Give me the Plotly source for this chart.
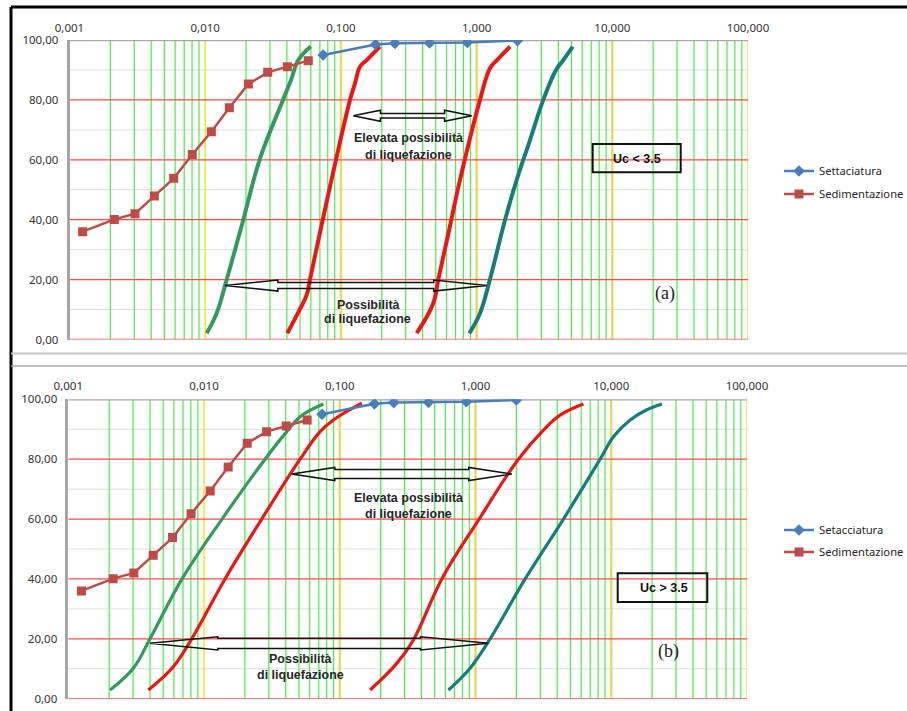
import math
import plotly.graph_objects as go

W, H = 907, 711

# ---------------------------------------------------------------- data
# particle size in mm, percent passing
setac_d = [0.074, 0.18, 0.25, 0.45, 0.855, 2.0]
setac_p = [95.0, 98.5, 98.9, 99.0, 99.2, 99.8]

sedim_d = [0.00125, 0.00214, 0.00304, 0.00422, 0.00586, 0.00803,
           0.0111, 0.01506, 0.0208, 0.0289, 0.0403, 0.0575]
sedim_p = [36.0, 40.1, 42.0, 47.9, 53.8, 61.8, 69.4, 77.4, 85.3, 89.2, 91.1, 93.1]

# grading limits for liquefiable soils, Uc < 3.5
a_green_d = [0.01026, 0.01215, 0.01440, 0.01909, 0.02518, 0.03744, 0.04288, 0.04855, 0.05990]
a_green_p = [2.1, 8.8, 20.0, 40.0, 60.0, 80.0, 86.6, 93.3, 97.8]
a_red1_d = [0.04027, 0.04830, 0.05598, 0.05919, 0.08524, 0.1167, 0.1270, 0.1382, 0.1549, 0.1941]
a_red1_p = [2.1, 8.9, 14.9, 20.1, 53.3, 80.0, 85.5, 91.1, 93.3, 97.8]
a_red2_d = [0.3619, 0.4797, 0.5222, 0.6368, 0.7547, 1.0595, 1.2549, 1.4137, 1.7626]
a_red2_p = [2.1, 12.1, 20.1, 37.9, 53.3, 80.0, 90.6, 93.3, 97.8]
a_teal_d = [0.8835, 1.0595, 1.2549, 1.6195, 1.9748, 2.4746, 3.1008, 3.8470, 4.3535, 5.1076]
a_teal_p = [2.1, 8.8, 20.1, 39.9, 53.3, 66.6, 80.0, 90.0, 93.3, 97.8]

# grading limits for liquefiable soils, Uc > 3.5
b_green_d = [0.002029, 0.003013, 0.004000, 0.006885, 0.01357, 0.02815, 0.04068, 0.05098, 0.07570]
b_green_p = [2.9, 10.2, 20.0, 40.0, 60.0, 80.0, 89.2, 94.2, 98.4]
b_red1_d = [0.003886, 0.005939, 0.008114, 0.01428, 0.02662, 0.05098, 0.07158, 0.08968, 0.1452]
b_red1_p = [2.9, 10.7, 20.0, 40.0, 60.0, 80.0, 89.2, 93.1, 98.7]
b_red2_d = [0.1673, 0.2630, 0.3486, 0.5645, 1.0629, 2.0704, 3.1651, 4.2022, 6.2391]
b_red2_p = [2.9, 11.8, 19.6, 40.0, 60.0, 80.0, 89.7, 94.7, 98.4]
b_teal_d = [0.6314, 0.9124, 1.2812, 2.3206, 4.4440, 8.2813, 10.380, 13.785, 18.302, 23.606]
b_teal_p = [2.9, 10.2, 20.0, 40.0, 60.0, 80.0, 87.5, 93.1, 96.5, 98.4]

x_tickvals = [0.001, 0.01, 0.1, 1, 10, 100]
x_ticktext = ["0,001", "0,010", "0,100", "1,000", "10,000", "100,000"]
y_tickvals = [0, 20, 40, 60, 80, 100]
y_ticktext = ["0,00", "20,00", "40,00", "60,00", "80,00", "100,00"]

# ---------------------------------------------------------------- styles
BLUE = "#4a7ebb"
BROWN = "#be4b48"
GREEN = "#339a5e"
RED = "#ee1515"
TEAL = "#167e7a"
GRID_GREEN = "#48ee48"
GRID_YELLOW = "#f5e000"
GRID_RED = "#ff4a4a"
GRID_GRAY = "#dedede"
AXIS_GRAY = "#a6a6a6"
TICK_FONT = dict(family="Noto Sans", size=11.5, color="#333333")
LABEL_FONT = dict(family="Liberation Sans", size=12.5, color="#262626")


def px(x):
    return x / W


def py(y):
    return 1 - y / H


fig = go.Figure()


def add_panel(sfx, legend_name, setac_label, curves, curve_w, arrows):
    xa, ya = "x" + sfx, "y" + sfx
    for d, p, c in curves:
        fig.add_trace(go.Scatter(x=d, y=p, mode="lines", xaxis=xa, yaxis=ya,
                                 line=dict(color=c, width=curve_w, shape="spline", smoothing=1.1),
                                 showlegend=False, hoverinfo="skip"))
    # hollow double-headed arrows
    for left, right, yv, head, hh, sh in arrows:
        l, r = math.log10(left), math.log10(right)
        pts = [(l, yv), (l + head, yv + hh), (l + head, yv + sh), (r - head, yv + sh),
               (r - head, yv + hh), (r, yv), (r - head, yv - hh), (r - head, yv - sh),
               (l + head, yv - sh), (l + head, yv - hh), (l, yv)]
        fig.add_trace(go.Scatter(x=[10 ** a for a, _ in pts], y=[b for _, b in pts],
                                 mode="lines", xaxis=xa, yaxis=ya,
                                 line=dict(color="#111111", width=1.5),
                                 showlegend=False, hoverinfo="skip"))
    fig.add_trace(go.Scatter(x=setac_d, y=setac_p, name=setac_label, mode="lines+markers",
                             xaxis=xa, yaxis=ya, legend=legend_name, legendgroup=legend_name + "s",
                             line=dict(color=BLUE, width=2.5),
                             marker=dict(symbol="diamond", size=9, color=BLUE)))
    fig.add_trace(go.Scatter(x=sedim_d, y=sedim_p, name="Sedimentazione", mode="lines+markers",
                             xaxis=xa, yaxis=ya, legend=legend_name, legendgroup=legend_name + "d",
                             line=dict(color=BROWN, width=2.5),
                             marker=dict(symbol="square", size=9, color=BROWN)))


add_panel("", "legend", "Settaciatura",
          [(a_green_d, a_green_p, GREEN), (a_red1_d, a_red1_p, RED),
           (a_red2_d, a_red2_p, RED), (a_teal_d, a_teal_p, TEAL)], 4,
          [(0.1234, 0.9203, 74.7, 0.20, 1.84, 0.73),
           (0.01399, 1.187, 18.0, 0.39, 1.84, 1.0)])
add_panel("2", "legend2", "Setacciatura",
          [(b_green_d, b_green_p, GREEN), (b_red1_d, b_red1_p, RED),
           (b_red2_d, b_red2_p, RED), (b_teal_d, b_teal_p, TEAL)], 3.2,
          [(0.04429, 1.85, 75.05, 0.317, 2.2, 1.5),
           (0.004, 1.245, 18.5, 0.50, 2.2, 1.7)])


# ---------------------------------------------------------------- axes
def xaxis_cfg(x0, x1, label_y):
    # labels sit on a free axis just above the plot frame
    return dict(type="log", range=[-3, 2], domain=[px(x0), px(x1)], anchor="free",
                position=py(label_y), side="top",
                tickvals=x_tickvals, ticktext=x_ticktext, tickfont=TICK_FONT,
                showgrid=False, zeroline=False, showline=False, ticks="",
                ticklabelstandoff=0, fixedrange=True)


def yaxis_cfg(top, bottom, anchor):
    return dict(range=[0, 100], domain=[py(bottom), py(top)], anchor=anchor,
                tickvals=y_tickvals, ticktext=y_ticktext, tickfont=TICK_FONT,
                showgrid=False, zeroline=False,
                showline=True, linecolor=AXIS_GRAY, linewidth=2.5, ticks="",
                ticklabelstandoff=6, fixedrange=True)


def vline(xr, yr, xv, color, width):
    return dict(type="line", xref=xr, yref=yr, x0=xv, x1=xv, y0=0, y1=100,
                layer="below", line=dict(color=color, width=width))


def hline(xr, yr, yv, color, width, layer="below"):
    return dict(type="line", xref=xr, yref=yr, x0=0.001, x1=100, y0=yv, y1=yv,
                layer=layer, line=dict(color=color, width=width))


shapes = []
for xr, yr in (("x", "y"), ("x2", "y2")):
    for yv in (10, 30, 50, 70, 90):
        shapes.append(hline(xr, yr, yv, GRID_GRAY, 1))
    for k in range(-3, 2):
        for m in range(2, 10):
            shapes.append(vline(xr, yr, m * 10 ** k, GRID_GREEN, 1.2))
    for k in (-1, 0, 1):
        shapes.append(vline(xr, yr, 10 ** k, "#dadada", 2.6))
    for k in (-2, -1, 0, 1, 2):
        shapes.append(vline(xr, yr, 10 ** k, GRID_YELLOW, 1.3))
    for yv in (0, 20, 40, 60, 80):
        shapes.append(hline(xr, yr, yv, GRID_RED, 1.3))
    # top frame line of the plot area
    shapes.append(hline(xr, yr, 100, AXIS_GRAY, 2.5))

# page frame and separators
shapes += [
    dict(type="line", xref="paper", yref="paper", x0=px(11), x1=1, y0=py(7), y1=py(7),
         line=dict(color="#000000", width=3)),
    dict(type="line", xref="paper", yref="paper", x0=px(11), x1=px(11), y0=py(7), y1=0,
         line=dict(color="#000000", width=3)),
    dict(type="line", xref="paper", yref="paper", x0=px(11), x1=1, y0=py(353.5), y1=py(353.5),
         line=dict(color="#c4c4c4", width=2)),
    dict(type="line", xref="paper", yref="paper", x0=px(11), x1=1, y0=py(366), y1=py(366),
         line=dict(color="#a8a8a8", width=1.5)),
    # Uc boxes
    dict(type="rect", xref="paper", yref="paper", x0=px(592.7), x1=px(680.7),
         y0=py(172.3), y1=py(144), line=dict(color="#111111", width=2)),
    dict(type="rect", xref="paper", yref="paper", x0=px(617.7), x1=px(707.3),
         y0=py(602), y1=py(573.3), line=dict(color="#111111", width=2)),
]


def label(x, y, text, font=LABEL_FONT):
    return dict(xref="paper", yref="paper", x=px(x), y=py(y), text=text, showarrow=False,
                xanchor="center", yanchor="middle", font=font)


serif = dict(family="Liberation Serif", size=18, color="#222222")
box_font = dict(family="Liberation Sans", size=12.5, color="#111111")
annotations = [
    label(408, 138.3, "<b>Elevata possibilità</b>"),
    label(408, 154.5, "<b>di liquefazione</b>"),
    label(368, 305, "<b>Possibilità</b>"),
    label(367, 319.5, "<b>di liquefazione</b>"),
    label(636.7, 158.5, "<b>Uc < 3.5</b>", box_font),
    label(665, 293.5, "(a)", serif),
    label(408, 498.3, "<b>Elevata possibilità</b>"),
    label(408, 514, "<b>di liquefazione</b>"),
    label(300.5, 659, "<b>Possibilità</b>"),
    label(300.5, 674.5, "<b>di liquefazione</b>"),
    label(664.3, 588, "<b>Uc > 3.5</b>", box_font),
    label(668.3, 651, "(b)", serif),
]

legend_font = dict(family="Noto Sans", size=11.2, color="#262626")
fig.update_layout(
    width=W, height=H, margin=dict(l=0, r=0, t=0, b=0, autoexpand=False),
    paper_bgcolor="white", plot_bgcolor="white",
    xaxis=xaxis_cfg(69.5, 748, 34.5),
    yaxis=yaxis_cfg(40, 339.5, "x"),
    xaxis2=xaxis_cfg(68.3, 747, 392),
    yaxis2=yaxis_cfg(399.3, 698.7, "x2"),
    shapes=shapes,
    annotations=annotations,
    legend=dict(x=px(779), y=py(156.5), xanchor="left", yanchor="top", font=legend_font,
                bgcolor="rgba(0,0,0,0)", traceorder="grouped", tracegroupgap=4),
    legend2=dict(x=px(779), y=py(515.5), xanchor="left", yanchor="top", font=legend_font,
                 bgcolor="rgba(0,0,0,0)", traceorder="grouped", tracegroupgap=3),
    showlegend=True,
)

fig.write_html("out.html")
